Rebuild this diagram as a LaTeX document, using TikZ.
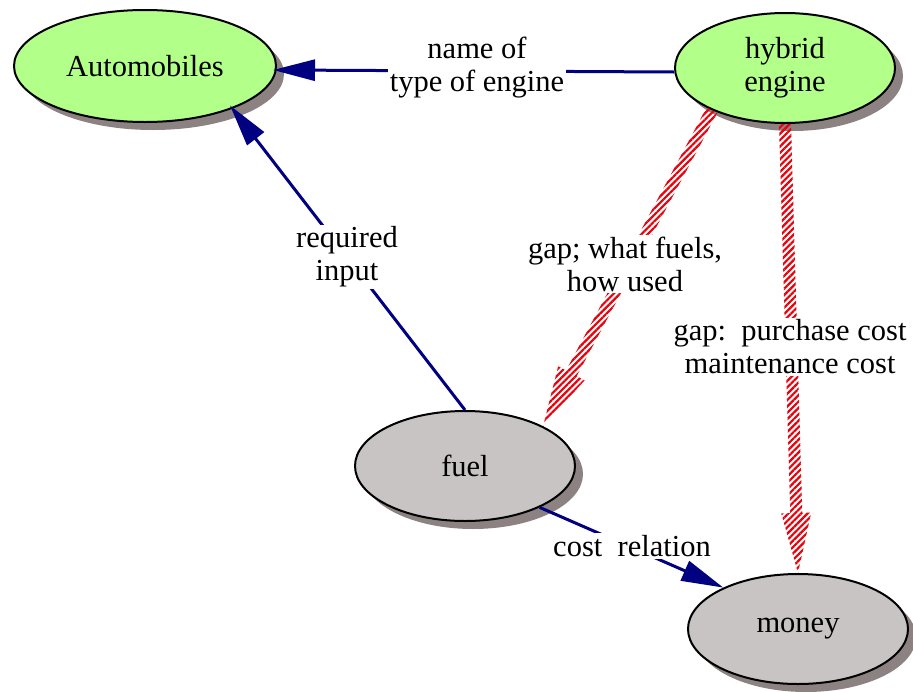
\documentclass[tikz,border=0pt]{standalone}
\usepackage{fontspec}
\setmainfont{Liberation Serif}
\usetikzlibrary{shapes.geometric,shadows,arrows.meta,decorations.markings,patterns.meta}
\definecolor{conceptgreen}{HTML}{B2FF8A}
\definecolor{conceptgray}{HTML}{C8C4C4}
\definecolor{shadowgray}{HTML}{8C8282}
\definecolor{linknavy}{HTML}{000080}
\definecolor{gapred}{HTML}{E8000A}
\tikzset{
  concept/.style={ellipse, draw=black, line width=2pt, minimum width=220pt,
    minimum height=110pt, inner sep=0pt, align=center,
    drop shadow={shadow xshift=8pt, shadow yshift=-8pt, fill=shadowgray, opacity=1}},
  link/.style={draw=linknavy, line width=3pt, shorten >=-4pt,
    -{Triangle[length=42pt,width=21pt]}},
  linklabel/.style={fill=white, inner sep=2pt, align=center},
  gaplink/.style={decoration={markings, mark=at position 0 with {
    \fill[pattern={Lines[angle=45,distance=4.5pt,line width=2.2pt]}, pattern color=gapred]
      (0pt,-6pt) -- ({\pgfdecoratedpathlength-60pt},-6pt)
      -- ({\pgfdecoratedpathlength-60pt},-15pt) -- ({\pgfdecoratedpathlength},0pt)
      -- ({\pgfdecoratedpathlength-60pt},15pt) -- ({\pgfdecoratedpathlength-60pt},6pt)
      -- (0pt,6pt) -- cycle;}}, postaction={decorate}}
}
\begin{document}
\begin{tikzpicture}[x=1pt,y=-1pt,font=\fontsize{30.5}{33}\selectfont]
\useasboundingbox (0,0) rectangle (913,691);
% concepts
\node[concept, fill=conceptgreen, minimum width=262pt, minimum height=112pt] (auto) at (145,66) {Automobiles};
\node[concept, fill=conceptgreen] (hyb) at (785,68) {hybrid\\engine};
\node[concept, fill=conceptgray] (fuel) at (465,466) {fuel};
\node[concept, fill=conceptgray] (money) at (798,629) {money};
% links
\draw[link] ([yshift=-4pt]hyb.west) -- ([yshift=-4pt]auto.east);
\draw[link] (fuel.north) -- (auto.-26);
\draw[link, shorten >=0pt] (fuel.-29) -- (money.151);
\path[gaplink] (hyb.210) -- (fuel.27);
\path[gaplink] (hyb.south) -- (money.north);
% link labels
\node[linklabel] (l1) at (477,68) {name of\\type of engine};
\node[linklabel] (l2) at (347,257) {required\\input};
\node[linklabel] (l3) at (625,264) {gap; what fuels,\\how used};
\node[linklabel] (l4) at (790,347) {gap:\ \ purchase cost\\maintenance cost};
\node[linklabel] (l5) at (632,546) {cost\ \ relation};
\end{tikzpicture}
\end{document}
